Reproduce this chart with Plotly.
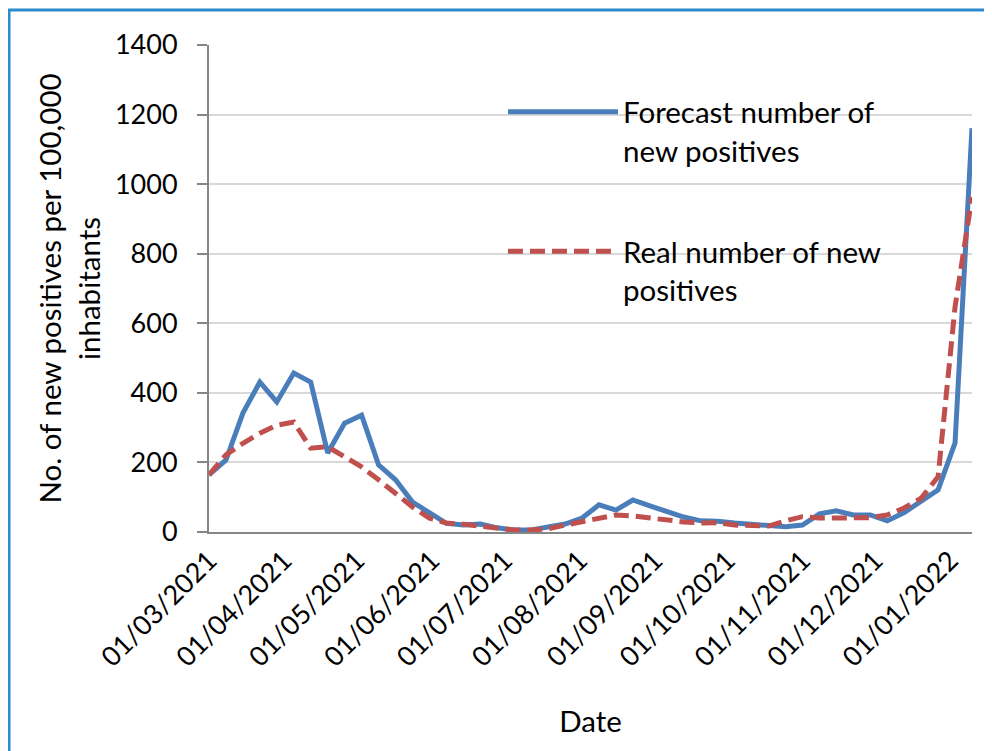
import plotly.graph_objects as go

dates = [
    "2021-03-01", "2021-03-08", "2021-03-15", "2021-03-22", "2021-03-29",
    "2021-04-05", "2021-04-12", "2021-04-19", "2021-04-26", "2021-05-03",
    "2021-05-10", "2021-05-17", "2021-05-24", "2021-05-31", "2021-06-07",
    "2021-06-14", "2021-06-21", "2021-06-28", "2021-07-05", "2021-07-12",
    "2021-07-19", "2021-07-26", "2021-08-02", "2021-08-09", "2021-08-16",
    "2021-08-23", "2021-08-30", "2021-09-06", "2021-09-13", "2021-09-20",
    "2021-09-27", "2021-10-04", "2021-10-11", "2021-10-18", "2021-10-25",
    "2021-11-01", "2021-11-08", "2021-11-15", "2021-11-22", "2021-11-29",
    "2021-12-06", "2021-12-13", "2021-12-20", "2021-12-27", "2022-01-03",
    "2022-01-10",
]

forecast = [164, 207, 342, 431, 374, 457, 431, 227, 313, 336,
            193, 150, 86, 55, 25, 20, 23, 12, 6, 6,
            14, 23, 40, 78, 63, 92, 75, 58, 43, 32,
            31, 26, 23, 18, 15, 20, 52, 61, 49, 49,
            32, 56, 87, 121, 256, 1161]

real = [164, 222, 255, 284, 307, 316, 241, 245, 216, 187,
        150, 112, 72, 40, 26, 22, 17, 12, 6, 6,
        9, 20, 29, 40, 49, 46, 40, 34, 29, 26,
        27, 20, 19, 17, 32, 44, 40, 41, 40, 41,
        49, 69, 97, 159, 647, 963]

tick_vals = ["2021-03-01", "2021-04-01", "2021-05-01", "2021-06-01",
             "2021-07-01", "2021-08-01", "2021-09-01", "2021-10-01",
             "2021-11-01", "2021-12-01", "2022-01-01"]
tick_text = ["01/03/2021", "01/04/2021", "01/05/2021", "01/06/2021",
             "01/07/2021", "01/08/2021", "01/09/2021", "01/10/2021",
             "01/11/2021", "01/12/2021", "01/01/2022"]

FONT = "Lato, 'Open Sans', sans-serif"
FS_TICK = 27
FS_TEXT = 29.5

fig = go.Figure()
fig.add_trace(go.Scatter(
    x=dates, y=forecast, mode="lines",
    name="Forecast number of<br>new positives",
    line=dict(color="#4A7EBB", width=5),
    legendgroup="a",
))
fig.add_trace(go.Scatter(
    x=dates, y=real, mode="lines",
    name="Real number of new<br>positives",
    line=dict(color="#C0504D", width=5, dash="15px,7px"),
    legendgroup="b",
))

# page is offset by the 8px body margin
OFF = 8
W, H = 992 - OFF, 751 - OFF
L, R, T, B = 209 - OFF, 20, 45 - OFF, 751 - 532
pw, ph = W - L - R, H - T - B


def px_x(p):
    return (p - OFF - L) / pw


def px_y(p):
    return (H - B - (p - OFF)) / ph


fig.update_layout(
    width=W, height=H,
    margin=dict(l=L, r=R, t=T, b=B),
    paper_bgcolor="white", plot_bgcolor="white",
    font=dict(family=FONT, size=FS_TEXT, color="black"),
    showlegend=True,
    legend=dict(
        x=px_x(503), y=px_y(86), xanchor="left", yanchor="top",
        bgcolor="rgba(0,0,0,0)", itemwidth=110, valign="top",
        tracegroupgap=60, font=dict(family=FONT, size=FS_TEXT),
    ),
    xaxis=dict(
        range=["2021-03-01", "2022-01-10"],
        tickvals=tick_vals, ticktext=tick_text, tickangle=-45,
        showgrid=False, showline=True, linecolor="#868686", linewidth=2,
        ticks="", zeroline=False,
        title=dict(text="Date", standoff=40, font=dict(size=FS_TEXT)),
        tickfont=dict(size=FS_TICK),
    ),
    yaxis=dict(
        range=[0, 1400], dtick=200,
        showgrid=True, gridcolor="#D9D9D9", gridwidth=2,
        showline=True, linecolor="#868686", linewidth=2,
        ticks="outside", ticklen=10, tickcolor="#868686", tickwidth=2,
        ticklabelstandoff=14, zeroline=False,
        title=dict(text="No. of new positives per 100,000<br>inhabitants",
                   standoff=6, font=dict(size=FS_TEXT)),
        tickfont=dict(size=FS_TICK),
    ),
    shapes=[
        dict(type="line", xref="paper", yref="paper",
             x0=px_x(6), x1=px_x(1000), y0=px_y(10), y1=px_y(10),
             line=dict(color="#2A8CCB", width=3)),
        dict(type="line", xref="paper", yref="paper",
             x0=px_x(9), x1=px_x(9), y0=px_y(10), y1=px_y(760),
             line=dict(color="#2A8CCB", width=3)),
    ],
)

fig.write_html("out.html")
